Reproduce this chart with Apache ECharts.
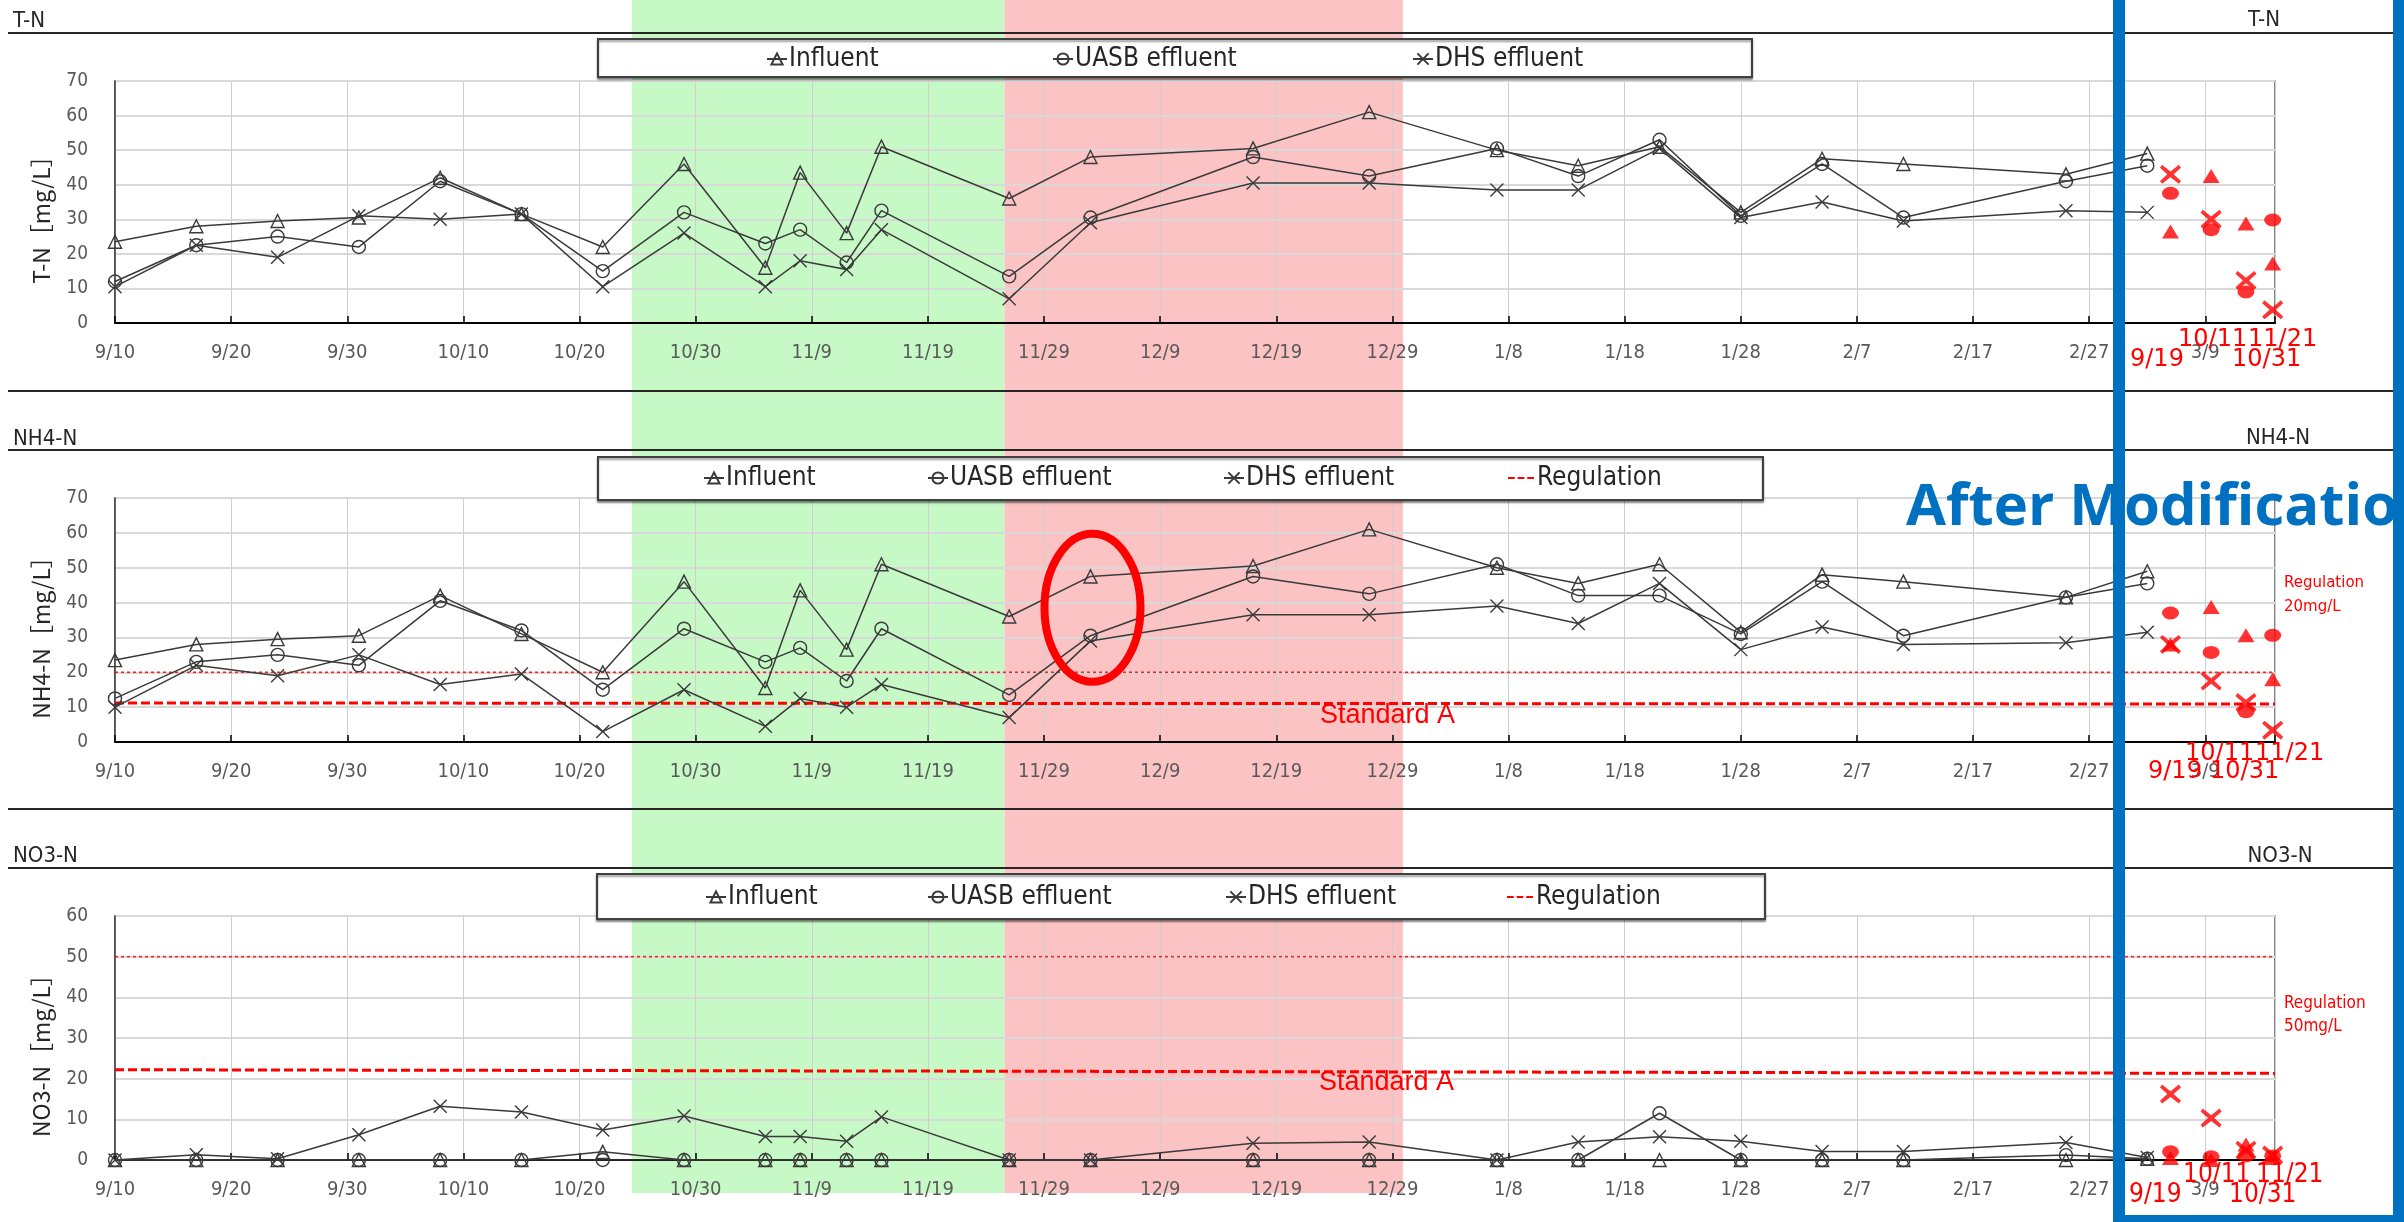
<!DOCTYPE html>
<html><head><meta charset="utf-8">
<script src="https://cdn.jsdelivr.net/npm/echarts@6/dist/echarts.min.js"></script>
<style>html,body{margin:0;padding:0;background:#fff}#c{width:2404px;height:1222px}</style>
</head><body><div id="c"></div>
<script>
// ---------- data ----------
const tickLabels = ['9/10','9/20','9/30','10/10','10/20','10/30','11/9','11/19','11/29','12/9','12/19','12/29','1/8','1/18','1/28','2/7','2/17','2/27','3/9'];
// sampling days, counted from 9/10
const sampleDays = [0,7,14,21,28,35,42,49,56,59,63,66,77,84,98,108,119,126,133,140,147,154,168,175];

const tnInfluent = [23.5,28,29.5,30.5,42,31.5,22,46,16,43.5,26,51,36,48,50.5,61,50,45.5,51,32,47.5,46,43,49];
const tnUASB     = [12,22.5,25,22,41,31.5,15,32,23,27,17.5,32.5,13.5,30.5,48,42.5,50.5,42.5,53,31,46,30.5,41,45.5];
const tnDHS      = [10.5,22.5,19,31,30,31.5,10.5,26,10.5,18,15.5,27,7,29,40.5,40.5,38.5,38.5,50.5,30.5,35,29.5,32.5,32];

const nhInfluent = [23.5,28,29.5,30.5,42,31,20,46,15.5,43.5,26.5,51,36,47.5,50.5,61,50,45.5,51,31.5,48,46,41.5,49];
const nhUASB     = [12.5,23,25,22,40.5,32,15,32.5,23,27,17.5,32.5,13.5,30.5,47.5,42.5,51,42,42,31,46,30.5,41.5,45.5];
const nhDHS      = [10,22,19,25,16.5,19.5,3,15,4.5,12.5,10,16.5,7,29,36.5,36.5,39,34,45.5,26.5,33,28,28.5,31.5];

const noInfluent = [0,0,0,0,0,0,2,0,0,0,0,0,0,0,0,0,0,0,0,0,0,0,0,0.3];
const noUASB     = [0,0,0,0,0,0,0,0,0,0,0,0,0,0,0,0,0,0,11.5,0,0,0,1.2,0.3];
const noDHS      = [0,1.3,0.3,6.2,13.2,11.8,7.4,10.8,5.8,5.8,4.6,10.6,0,0,4.1,4.4,0,4.4,5.7,4.6,2.1,2.1,4.3,0.6];

// after-modification samples
const afterLabels = ['9/19','10/11','10/31','11/21'];
const afterDays   = [177,180.5,183.5,185.8];
const tnAfterInfluent = [26.5,42.5,28.8,17.2];
const tnAfterUASB     = [37.5,27,9,29.8];
const tnAfterDHS      = [43,30,12.3,3.8];
const nhAfterInfluent = [28,38.7,30.6,18];
const nhAfterUASB     = [37,25.7,8.7,30.6];
const nhAfterDHS      = [28,17.5,11.3,3.4];
const noAfterInfluent = [0.5,0,3.8,0.5];
const noAfterUASB     = [2,0.8,1,1];
const noAfterDHS      = [16.2,10.3,2.4,1.2];

const regulationNH4 = 20, regulationNO3 = 50;
const standardANH4 = [11.2,10.9], standardANO3 = [22.2,21.3];
const phaseStart = [44.5,76.6], phaseEnd = [76.6,110.9];
const xMin = 0, xMax = 186;

// ---------- style ----------
const NARROW = "'DejaVu Sans Condensed','Liberation Sans Narrow','DejaVu Sans',sans-serif";
const LINEC = '#3a3a3a';
const XSYM = 'path://M0,0L20,20M20,0L0,20';
const BOLDX = 'path://M2,0L10,7L18,0L20,3L13,10L20,17L18,20L10,13L2,20L0,17L7,10L0,3Z';
const DASHICON = 'path://M0,0L7,0L7,2L0,2ZM10,0L17,0L17,2L10,2ZM20,0L27,0L27,2L20,2Z';
const RED = '#ff0000';

const panels = [
  {inf:tnInfluent, uasb:tnUASB, dhs:tnDHS, aInf:tnAfterInfluent, aUasb:tnAfterUASB, aDhs:tnAfterDHS, max:70, name:'T-N［mg/L］', top:81, height:242},
  {inf:nhInfluent, uasb:nhUASB, dhs:nhDHS, aInf:nhAfterInfluent, aUasb:nhAfterUASB, aDhs:nhAfterDHS, max:70, name:'NH4-N［mg/L］', top:498, height:244, reg:regulationNH4, stdA:standardANH4},
  {inf:noInfluent, uasb:noUASB, dhs:noDHS, aInf:noAfterInfluent, aUasb:noAfterUASB, aDhs:noAfterDHS, max:60, name:'NO3-N［mg/L］', top:916, height:244, reg:regulationNO3, stdA:standardANO3}
];

const pairs = (d, v) => d.map((x, i) => [x, v[i]]);

const grid = [], xAxis = [], yAxis = [], series = [];
panels.forEach((p, g) => {
  grid.push({left:115, width:2160, top:p.top, height:p.height, show:true, borderColor:'#595959', borderWidth:1.5, backgroundColor:'transparent'});
  xAxis.push({gridIndex:g, type:'value', min:xMin, max:xMax, interval:10,
    axisLine:{lineStyle:{color:'#000', width:2}},
    axisTick:{inside:true, length:7, lineStyle:{color:'#000', width:1.5}},
    splitLine:{show:true, lineStyle:{color:'#cfcfcf', width:1}},
    axisLabel:{margin:20, fontSize:20, fontFamily:NARROW, color:'#595959',
      formatter: v => (v % 10 === 0 && tickLabels[v/10]) ? tickLabels[v/10] : ''}
  });
  yAxis.push({gridIndex:g, type:'value', min:0, max:p.max, interval:10,
    name:p.name, nameLocation:'middle', nameGap:62,
    nameTextStyle:{fontSize:23, fontFamily:"'Noto Sans CJK JP','DejaVu Sans',sans-serif", color:'#262626', padding:[0,24,0,0]},
    axisLine:{show:true, lineStyle:{color:'#404040', width:1.5}},
    axisTick:{show:false},
    splitLine:{lineStyle:{color:'#d9d9d9', width:2}},
    axisLabel:{margin:27, fontSize:19, fontFamily:NARROW, color:'#595959'}
  });
  const mk = (name, vals, sym) => ({
    name, type:'line', xAxisIndex:g, yAxisIndex:g, data:pairs(sampleDays, vals),
    symbol:sym, symbolSize:13, showAllSymbol:true,
    lineStyle:{color:LINEC, width:1.5},
    itemStyle:{color:'transparent', borderColor:LINEC, borderWidth:1.4},
    z:3, animation:false
  });
  series.push(mk('Influent', p.inf, 'triangle'));
  series.push(mk('UASB effluent', p.uasb, 'circle'));
  series.push(mk('DHS effluent', p.dhs, XSYM));
  if (p.reg !== undefined) {
    series.push({name:'Regulation', type:'line', xAxisIndex:g, yAxisIndex:g,
      data:[[xMin,p.reg],[xMax,p.reg]], symbol:'none',
      lineStyle:{color:RED, width:1.6, type:[3,3], opacity:0.85},
      itemStyle:{color:RED}, z:2, animation:false});
    series.push({name:'Standard A', type:'line', xAxisIndex:g, yAxisIndex:g,
      data:[[xMin,p.stdA[0]],[xMax,p.stdA[1]]], symbol:'none',
      lineStyle:{color:RED, width:3, type:[9,4]}, z:2, animation:false});
  }
  const red = (name, vals, sym, size) => ({
    name, type:'scatter', xAxisIndex:g, yAxisIndex:g, data:pairs(afterDays, vals),
    symbol:sym, symbolSize:size, itemStyle:{color:RED}, z:4, animation:false
  });
  series.push(red('After influent', p.aInf, 'triangle', [17,14]));
  series.push(red('After UASB', p.aUasb, 'circle', [17,13]));
  series.push(red('After DHS', p.aDhs, BOLDX, [21,19]));
});

const legendRows = [
  {top:46, items:[['Influent',766],['UASB effluent',1052],['DHS effluent',1412]]},
  {top:465, items:[['Influent',703],['UASB effluent',927],['DHS effluent',1223],['Regulation',1508]]},
  {top:884, items:[['Influent',705],['UASB effluent',927],['DHS effluent',1225],['Regulation',1507]]}
];
const legend = [];
legendRows.forEach(r => r.items.forEach(([n, l]) => {
  const isReg = n === 'Regulation';
  legend.push({
    data:[n], left:l, top:r.top, padding:0,
    itemWidth: isReg ? 26 : 20, itemHeight: isReg ? 2 : 14,
    icon: isReg ? DASHICON : undefined,
    itemGap: 0, selectedMode:false,
    textStyle:{fontSize:26, fontFamily:NARROW, color:'#262626', padding: isReg ? [0,0,0,-2] : [0,0,0,-3]}
  });
}));

const chart = echarts.init(document.getElementById('c'), null, {width:2404, height:1222});
chart.setOption({animation:false, backgroundColor:'#fff', grid, xAxis, yAxis, series, legend});

// ---------- annotations ----------
const G = [];
const bandColors = ['#c6f9c6', '#fbc3c3'];
phaseStart.forEach((s, i) => {
  const x0 = chart.convertToPixel({gridIndex:0}, [s, 0])[0];
  const x1 = chart.convertToPixel({gridIndex:0}, [phaseEnd[i], 0])[0];
  G.push({type:'rect', silent:true, z:-10, shape:{x:x0, y:0, width:x1-x0, height:1193}, style:{fill:bandColors[i]}});
});
const txt = (text, x, y, size, color, font, align, weight, z) => ({
  type:'text', silent:true, z:z || 6,
  style:{text, x, y, fill:color, font:(weight||'normal') + ' ' + size + 'px ' + font,
    align:align||'left', verticalAlign:'middle', textAlign:align||'left', textVerticalAlign:'middle'}
});
const hline = (y) => ({type:'line', silent:true, z:6, shape:{x1:8, y1:y, x2:2404, y2:y}, style:{stroke:'#262626', lineWidth:2}});
[33, 391, 450, 809, 868].forEach(y => G.push(hline(y)));
G.push(txt('T-N', 13, 21, 22, '#262626', NARROW));
G.push(txt('NH4-N', 13, 439, 22, '#262626', NARROW));
G.push(txt('NO3-N', 13, 856, 22, '#262626', NARROW));
G.push(txt('T-N', 2264, 20, 22, '#262626', NARROW, 'center'));
G.push(txt('NH4-N', 2278, 438, 22, '#262626', NARROW, 'center'));
G.push(txt('NO3-N', 2280, 856, 22, '#262626', NARROW, 'center'));
// legend boxes
[[598,39,1154,38],[598,457,1165,43],[597,874,1168,45]].forEach(b => G.push({
  type:'rect', silent:true, z:3, shape:{x:b[0], y:b[1], width:b[2], height:b[3]},
  style:{fill:'#fff', stroke:'#404040', lineWidth:2, shadowBlur:2, shadowOffsetY:2, shadowColor:'rgba(0,0,0,0.4)'}
}));
// Standard A / regulation notes
const ARIAL = "'Liberation Sans',Arial,sans-serif";
G.push(txt('Standard A', 1320, 716, 27, RED, ARIAL));
G.push(txt('Standard A', 1319, 1083, 27, RED, ARIAL));
G.push(txt('Regulation', 2284, 583, 15, RED, "'DejaVu Sans',sans-serif"));
G.push(txt('20mg/L', 2284, 607, 15, RED, "'DejaVu Sans',sans-serif"));
G.push(txt('Regulation', 2284, 1004, 17, RED, NARROW));
G.push(txt('50mg/L', 2284, 1027, 17, RED, NARROW));
// ellipse highlight
const ec = chart.convertToPixel({gridIndex:1}, [84, 38.5]);
G.push({type:'ellipse', silent:true, z:7, shape:{cx:ec[0]+2, cy:ec[1], rx:48, ry:74}, style:{fill:'none', stroke:RED, lineWidth:8}});
// after-modification date labels
const DV = "'DejaVu Sans',sans-serif";
G.push(txt(afterLabels[0], 2130, 360, 24, RED, DV));
G.push(txt(afterLabels[1], 2178, 340, 24, RED, DV));
G.push(txt(afterLabels[2], 2232, 360, 24, RED, DV));
G.push(txt(afterLabels[3], 2248, 340, 24, RED, DV));
G.push(txt(afterLabels[0], 2148, 772, 24, RED, DV));
G.push(txt(afterLabels[1], 2185, 754, 24, RED, DV));
G.push(txt(afterLabels[2], 2210, 772, 24, RED, DV));
G.push(txt(afterLabels[3], 2255, 754, 24, RED, DV));
G.push(txt(afterLabels[0], 2129, 1195, 26, RED, NARROW));
G.push(txt(afterLabels[1], 2183, 1175, 26, RED, NARROW));
G.push(txt(afterLabels[2], 2229, 1195, 26, RED, NARROW));
G.push(txt(afterLabels[3], 2256, 1175, 26, RED, NARROW));
// After Modification box
G.push(txt('After Modification', 1906, 508, 58, '#0070c0', "'Open Sans','Noto Sans',sans-serif", 'left', 'bold', 8));
G.push({type:'rect', silent:true, z:9, shape:{x:2119, y:-20, width:280, height:1241}, style:{fill:'none', stroke:'#0070c0', lineWidth:12}});

chart.setOption({graphic:{elements:G}});
</script>
</body></html>
